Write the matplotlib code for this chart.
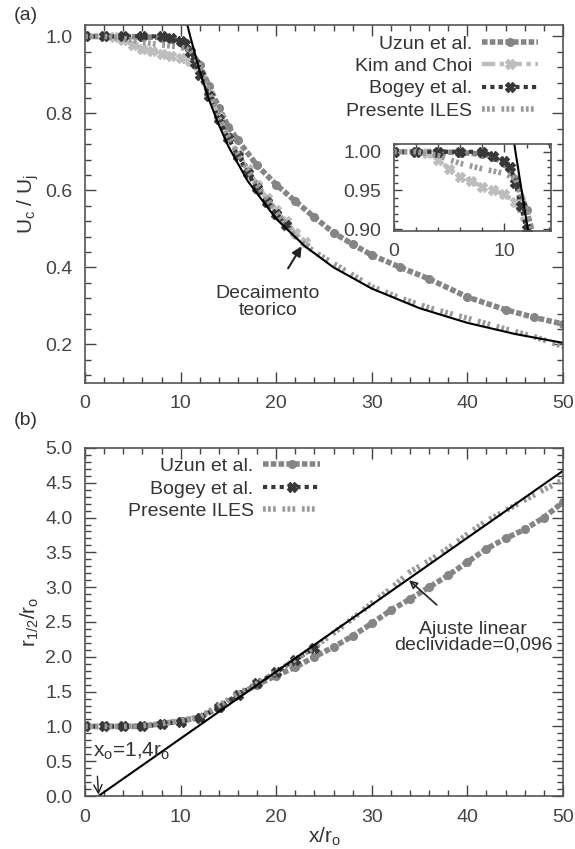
import matplotlib
matplotlib.use("Agg")
import matplotlib.pyplot as plt
from matplotlib.ticker import MultipleLocator

plt.rcParams['font.family'] = ['Liberation Sans', 'DejaVu Sans']
plt.rcParams['font.size'] = 14
plt.rcParams['text.color'] = '#333333'
plt.rcParams['axes.labelcolor'] = '#333333'
plt.rcParams['xtick.color'] = '#444444'
plt.rcParams['ytick.color'] = '#444444'
plt.rcParams['mathtext.fontset'] = 'custom'
plt.rcParams['mathtext.rm'] = 'Liberation Sans'
plt.rcParams['mathtext.it'] = 'Liberation Sans'

# (a) decaimento da velocidade no eixo
x_uzun_a = [0, 2, 4, 6, 8, 9, 10, 11, 12, 13, 14, 15, 16, 18, 20, 22, 24, 26, 28, 30, 33, 36, 40, 44, 47, 50]
uzun_a = [1.0, 1.0, 1.0, 0.999, 0.997, 0.993, 0.985, 0.965, 0.925, 0.87, 0.815, 0.765, 0.73, 0.665, 0.615,
          0.572, 0.53, 0.49, 0.46, 0.432, 0.40, 0.37, 0.323, 0.29, 0.27, 0.253]
x_kim_a = [0, 2, 3, 4, 5, 6, 7, 8, 9, 10, 11, 12, 13, 14, 15, 16, 17, 18, 19, 20, 21, 22, 23]
kim_a = [1.0, 1.0, 0.998, 0.99, 0.978, 0.968, 0.962, 0.955, 0.95, 0.945, 0.935, 0.9, 0.85, 0.79, 0.74,
         0.695, 0.655, 0.615, 0.58, 0.55, 0.52, 0.49, 0.465]
x_bogey_a = [0, 2, 4, 6, 8, 9, 10, 10.5, 11, 11.5, 12, 13, 14, 15, 16, 17, 18, 19, 20, 21]
bogey_a = [1.0, 1.0, 1.0, 1.0, 1.0, 0.995, 0.988, 0.98, 0.96, 0.93, 0.9, 0.845, 0.785, 0.735, 0.69, 0.645,
           0.605, 0.57, 0.54, 0.51]
x_iles_a = [0, 2, 4, 6, 8, 10, 11, 12, 12.5, 13, 14, 15, 16, 18, 20, 22, 24, 26, 28, 30, 33, 36, 40, 44, 47, 50]
iles_a = [1.0, 1.0, 0.995, 0.985, 0.978, 0.972, 0.965, 0.925, 0.89, 0.855, 0.79, 0.74, 0.695, 0.615, 0.545,
          0.48, 0.44, 0.41, 0.38, 0.35, 0.32, 0.295, 0.268, 0.24, 0.22, 0.195]
x_teo = [10.7, 11, 12, 13, 14, 15, 17, 20, 23, 26, 30, 35, 40, 45, 50]
teo = [1.03, 1.0, 0.91, 0.833, 0.77, 0.714, 0.625, 0.526, 0.455, 0.40, 0.345, 0.294, 0.256, 0.227, 0.204]

# (b) meia largura do jato
x_b = [0, 2, 4, 6, 8, 10, 12, 14, 16, 18, 20, 22, 24, 26, 28, 30, 32, 34, 36, 38, 40, 42, 44, 46, 48, 50]
uzun_b = [1.0, 1.0, 1.0, 1.0, 1.04, 1.08, 1.13, 1.27, 1.45, 1.6, 1.73, 1.85, 2.0, 2.14, 2.3, 2.48, 2.67,
          2.83, 3.0, 3.17, 3.36, 3.55, 3.7, 3.83, 4.0, 4.22]
iles_b = [1.0, 1.0, 1.0, 1.01, 1.04, 1.08, 1.14, 1.3, 1.47, 1.62, 1.78, 1.96, 2.14, 2.34, 2.55, 2.77, 2.98,
          3.22, 3.38, 3.56, 3.76, 3.95, 4.1, 4.25, 4.4, 4.54]
x_bogey_b = [0, 2, 4, 6, 8, 10, 12, 14, 16, 18, 20, 22, 24]
bogey_b = [1.0, 1.0, 1.0, 1.0, 1.03, 1.07, 1.12, 1.28, 1.45, 1.62, 1.78, 1.96, 2.12]
x_ajuste = [1.4, 50]
ajuste = [0.0, 4.67]

c_uzun, c_kim, c_bogey, c_iles = '#858585', '#bdbdbd', '#383838', '#9a9a9a'


def draw_series(ax, x, y, kind, label=None, lw=4):
    if kind == 'uzun':
        ax.plot(x, y, color=c_uzun, lw=lw, ls=(0, (1.0, 0.4)), marker='o', ms=5.5, label=label)
    elif kind == 'kim':
        ax.plot(x, y, color=c_kim, lw=lw * 0.8, ls=(0, (3, 1, 1, 1)), marker='X', ms=7, label=label)
    elif kind == 'bogey':
        ax.plot(x, y, color=c_bogey, lw=lw * 0.75, ls=(0, (1, 1)), marker='X', ms=7, label=label)
    else:
        ax.plot(x, y, color=c_iles, lw=lw, ls=(0, (0.5, 0.4, 0.5, 0.4, 0.5, 1.2)), label=label)


def style_axes(ax, length=8, pad=9):
    ax.tick_params(which='both', direction='in', top=True, right=True, labelsize=14, pad=pad)
    ax.tick_params(which='major', length=length, width=1)
    ax.tick_params(which='minor', length=length / 2, width=1)
    for s in ax.spines.values():
        s.set_color('#555555')
        s.set_linewidth(1.2)


def right_align_legend(leg):
    for col in leg._legend_handle_box.get_children():
        col.align = 'right'


fig = plt.figure(figsize=(5.75, 8.49), dpi=100)

# ---------- (a)
ax1 = fig.add_axes([0.148, 0.549, 0.831, 0.4217])
draw_series(ax1, x_uzun_a, uzun_a, 'uzun', 'Uzun et al.')
draw_series(ax1, x_kim_a, kim_a, 'kim', 'Kim and Choi')
draw_series(ax1, x_bogey_a, bogey_a, 'bogey', 'Bogey et al.')
draw_series(ax1, x_iles_a, iles_a, 'iles', 'Presente ILES')
ax1.plot(x_teo, teo, color='black', lw=1.5)
ax1.set_xlim(0, 50)
ax1.set_ylim(0.1, 1.03)
ax1.xaxis.set_major_locator(MultipleLocator(10))
ax1.xaxis.set_minor_locator(MultipleLocator(2))
ax1.yaxis.set_minor_locator(MultipleLocator(0.04))
ax1.set_yticks([0.2, 0.4, 0.6, 0.8, 1.0])
ax1.set_yticklabels(['0.2', '0.4', '0.6', '0.8', '1.0'])
style_axes(ax1)
ax1.set_ylabel(r'U$_\mathregular{c}$ / U$_\mathregular{j}$', fontsize=15, labelpad=3)
leg1 = ax1.legend(loc='upper right', bbox_to_anchor=(0.948, 0.972), frameon=False, markerfirst=False,
                  numpoints=1, handlelength=2.9, handletextpad=0.5, labelspacing=0.25,
                  borderpad=0, borderaxespad=0, fontsize=14)
right_align_legend(leg1)
ax1.annotate('Decaimento\nteorico', xy=(22.65, 0.455), xytext=(19.1, 0.31), ha='center', va='center',
             fontsize=14, linespacing=0.95,
             arrowprops=dict(arrowstyle='-|>', color='#222222', lw=1.5, mutation_scale=14,
                             shrinkA=12, shrinkB=0))
fig.text(0.045, 0.982, '(a)', fontsize=14, ha='center', va='center', color='#333333')

# inset
axi = fig.add_axes([0.685, 0.7283, 0.273, 0.102])
draw_series(axi, x_uzun_a, uzun_a, 'uzun', lw=4)
draw_series(axi, x_kim_a, kim_a, 'kim', lw=4)
draw_series(axi, x_bogey_a, bogey_a, 'bogey', lw=4)
draw_series(axi, x_iles_a, iles_a, 'iles', lw=4)
axi.plot(x_teo, teo, color='black', lw=1.5)
axi.set_xlim(0, 14.2)
axi.set_ylim(0.898, 1.01)
axi.set_xticks([0, 10])
axi.xaxis.set_minor_locator(MultipleLocator(2))
axi.set_yticks([0.90, 0.95, 1.00])
axi.set_yticklabels(['0.90', '0.95', '1.00'])
axi.yaxis.set_minor_locator(MultipleLocator(0.01))
style_axes(axi, length=6, pad=9)

# ---------- (b)
ax2 = fig.add_axes([0.148, 0.0624, 0.831, 0.41])
draw_series(ax2, x_b, uzun_b, 'uzun', 'Uzun et al.')
draw_series(ax2, x_bogey_b, bogey_b, 'bogey', 'Bogey et al.')
draw_series(ax2, x_b, iles_b, 'iles', 'Presente ILES')
ax2.plot(x_ajuste, ajuste, color='black', lw=1.5)
ax2.set_xlim(0, 50)
ax2.set_ylim(0, 5)
ax2.xaxis.set_major_locator(MultipleLocator(10))
ax2.xaxis.set_minor_locator(MultipleLocator(2))
ax2.yaxis.set_major_locator(MultipleLocator(0.5))
ax2.yaxis.set_minor_locator(MultipleLocator(0.1))
ax2.yaxis.set_major_formatter(lambda v, p: f'{v:.1f}')
style_axes(ax2)
ax2.set_ylabel(r'r$_\mathregular{1/2}$/r$_\mathregular{o}$', fontsize=15, labelpad=3)
ax2.set_xlabel(r'x/r$_\mathregular{o}$', fontsize=15, labelpad=0)
leg2 = ax2.legend(loc='upper right', bbox_to_anchor=(0.491, 0.972), frameon=False, markerfirst=False,
                  numpoints=1, handlelength=2.9, handletextpad=0.5, labelspacing=0.25,
                  borderpad=0, borderaxespad=0, fontsize=14)
right_align_legend(leg2)
ax2.annotate('Ajuste linear\ndeclividade=0,096', xy=(33.9, 3.10), xytext=(40.6, 2.28), ha='center',
             va='center', fontsize=14, linespacing=0.95,
             arrowprops=dict(arrowstyle='-|>', color='#222222', lw=1.2, mutation_scale=12,
                             shrinkA=14, shrinkB=0, fill=False))
ax2.annotate(r'x$_\mathregular{o}$=1,4r$_\mathregular{o}$', xy=(1.4, 0.02), xytext=(0.8, 0.56),
             ha='left', va='baseline', fontsize=15,
             arrowprops=dict(arrowstyle='->', color='#222222', lw=1, shrinkA=8, shrinkB=0,
                             relpos=(0.05, 0)))
fig.text(0.045, 0.505, '(b)', fontsize=14, ha='center', va='center', color='#333333')

fig.savefig('out.png', dpi=100)
